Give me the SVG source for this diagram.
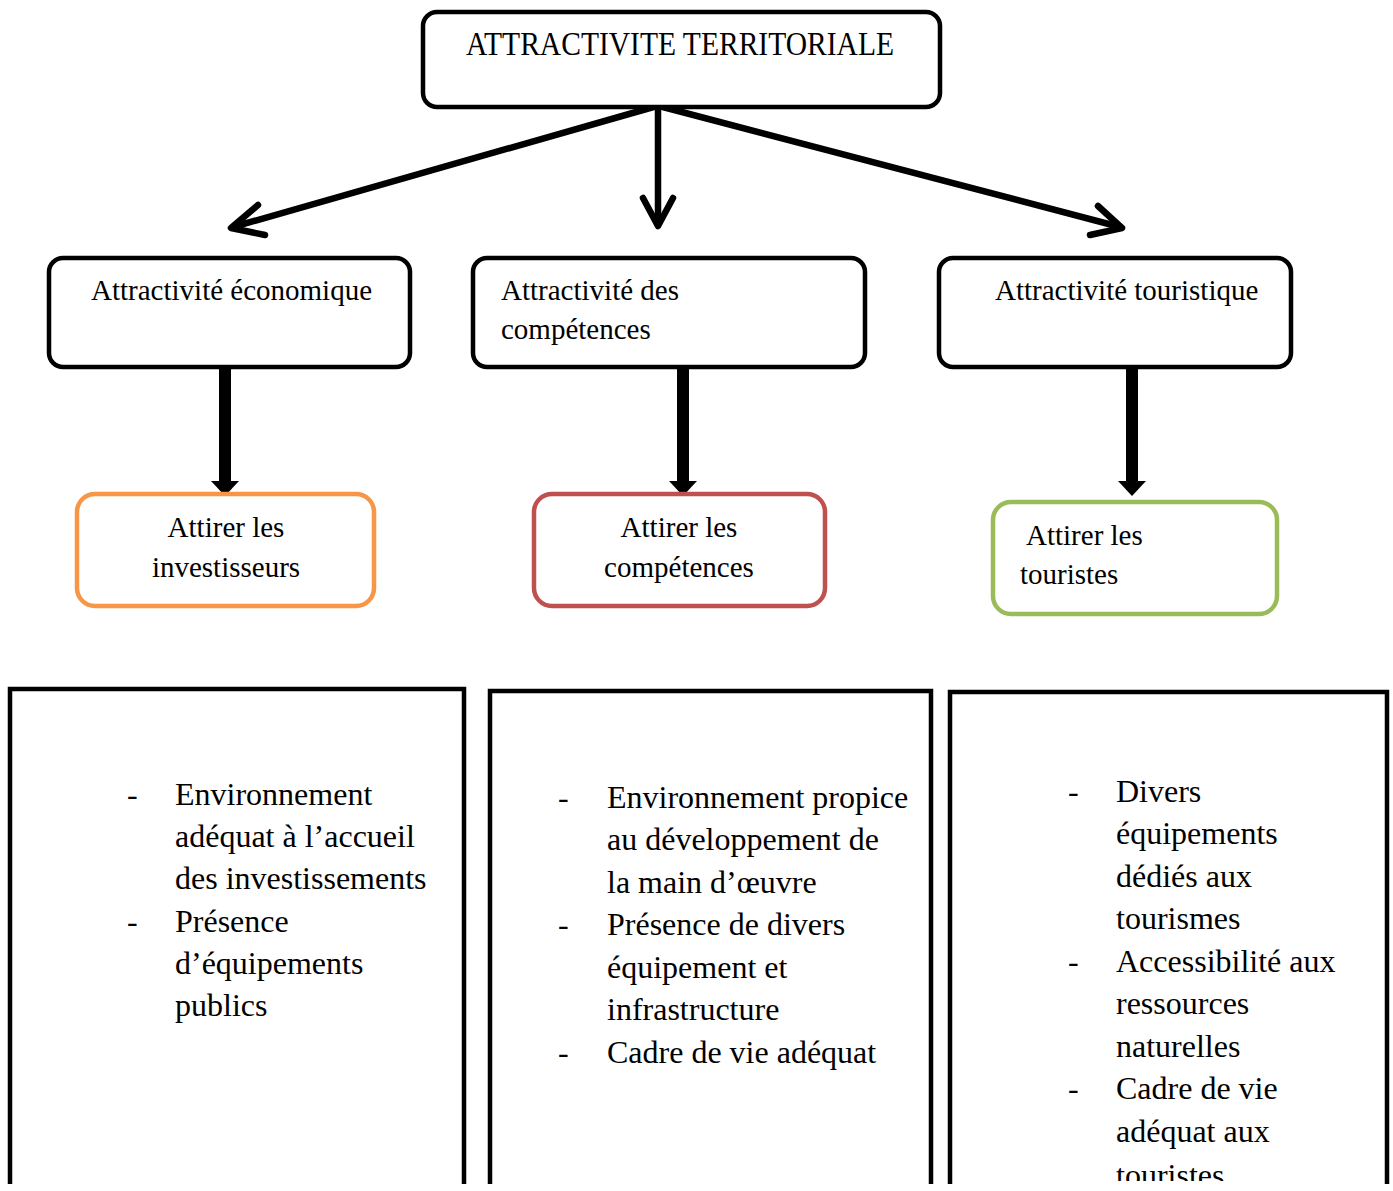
<svg xmlns="http://www.w3.org/2000/svg" width="1393" height="1191" viewBox="0 0 1393 1191">
<style>
.t{font-family:"Liberation Serif","Times New Roman",serif;fill:#000}
.s29{font-size:29px}
.s32{font-size:32px}
.box{fill:#fff;stroke:#000;stroke-width:4.5}
.col{fill:#fff;stroke-width:4.5}
.list{fill:none;stroke:#000;stroke-width:4.5}
.conn{fill:none;stroke:#000;stroke-width:6.5;stroke-linecap:round;stroke-linejoin:round}
.thick{fill:#000}
</style>
<defs>
<clipPath id="pageclip"><rect x="0" y="0" width="1393" height="1184"/></clipPath>
<clipPath id="textclip"><rect x="0" y="0" width="1393" height="1181"/></clipPath>
</defs>
<rect x="0" y="0" width="1393" height="1191" fill="#fff"/>

<g id="connectors">
<line class="conn" x1="657" y1="106" x2="233" y2="227"/>
<polyline class="conn" points="258,205 231,228 265,235"/>
<line class="conn" x1="658" y1="106" x2="658" y2="225"/>
<polyline class="conn" points="643,198 658,226 673,198"/>
<line class="conn" x1="659" y1="106" x2="1120" y2="227"/>
<polyline class="conn" points="1098,206 1122,228 1090,235"/>
<rect class="thick" x="219" y="363" width="12" height="119"/>
<polygon class="thick" points="211,481 239,481 225,496"/>
<rect class="thick" x="677" y="363" width="12" height="119"/>
<polygon class="thick" points="669,481 697,481 683,496"/>
<rect class="thick" x="1126" y="363" width="12" height="119"/>
<polygon class="thick" points="1118,481 1146,481 1132,496"/>
</g>

<g id="node-top">
<rect class="box" x="423" y="12" width="517" height="95" rx="14"/>
<text class="t" x="466" y="55" font-size="34" textLength="428" lengthAdjust="spacingAndGlyphs">ATTRACTIVITE TERRITORIALE</text>
</g>

<g id="node-eco">
<rect class="box" x="49" y="258" width="361" height="109" rx="14"/>
<text class="t s29" x="91" y="300">Attractivité économique</text>
</g>

<g id="node-comp">
<rect class="box" x="473" y="258" width="392" height="109" rx="14"/>
<text class="t s29" x="501" y="300">Attractivité des</text>
<text class="t s29" x="501" y="339">compétences</text>
</g>

<g id="node-tour">
<rect class="box" x="939" y="258" width="352" height="109" rx="14"/>
<text class="t s29" x="995" y="300">Attractivité touristique</text>
</g>

<g id="node-invest">
<rect class="col" x="77" y="494" width="297" height="112" rx="18" stroke="#F79646"/>
<text class="t s29" x="226" y="537" text-anchor="middle">Attirer les</text>
<text class="t s29" x="226" y="577" text-anchor="middle">investisseurs</text>
</g>

<g id="node-competences">
<rect class="col" x="534" y="494" width="291" height="112" rx="18" stroke="#C0504D"/>
<text class="t s29" x="679" y="537" text-anchor="middle">Attirer les</text>
<text class="t s29" x="679" y="577" text-anchor="middle">compétences</text>
</g>

<g id="node-touristes">
<rect class="col" x="993" y="502" width="284" height="112" rx="18" stroke="#9BBB59"/>
<text class="t s29" x="1026" y="545">Attirer les</text>
<text class="t s29" x="1020" y="584">touristes</text>
</g>

<g clip-path="url(#pageclip)">
<g id="list-eco">
<path class="list" d="M10,1186 V689 H464 V1186"/>
<text class="t s32" x="127" y="805">-</text>
<text class="t s32" x="175" y="805">Environnement</text>
<text class="t s32" x="175" y="847">adéquat à l’accueil</text>
<text class="t s32" x="175" y="889">des investissements</text>
<text class="t s32" x="127" y="932">-</text>
<text class="t s32" x="175" y="932">Présence</text>
<text class="t s32" x="175" y="974">d’équipements</text>
<text class="t s32" x="175" y="1016">publics</text>
</g>

<g id="list-comp">
<path class="list" d="M490,1186 V691 H931 V1186"/>
<text class="t s32" x="558" y="808">-</text>
<text class="t s32" x="607" y="808">Environnement propice</text>
<text class="t s32" x="607" y="850">au développement de</text>
<text class="t s32" x="607" y="893">la main d’œuvre</text>
<text class="t s32" x="558" y="935">-</text>
<text class="t s32" x="607" y="935">Présence de divers</text>
<text class="t s32" x="607" y="978">équipement et</text>
<text class="t s32" x="607" y="1020">infrastructure</text>
<text class="t s32" x="558" y="1063">-</text>
<text class="t s32" x="607" y="1063">Cadre de vie adéquat</text>
</g>

<g id="list-tour">
<path class="list" d="M950,1186 V692 H1387 V1186"/>
<text class="t s32" x="1068" y="802">-</text>
<text class="t s32" x="1116" y="802">Divers</text>
<text class="t s32" x="1116" y="844">équipements</text>
<text class="t s32" x="1116" y="887">dédiés aux</text>
<text class="t s32" x="1116" y="929">tourismes</text>
<text class="t s32" x="1068" y="972">-</text>
<text class="t s32" x="1116" y="972">Accessibilité aux</text>
<text class="t s32" x="1116" y="1014">ressources</text>
<text class="t s32" x="1116" y="1057">naturelles</text>
<text class="t s32" x="1068" y="1099">-</text>
<text class="t s32" x="1116" y="1099">Cadre de vie</text>
<text class="t s32" x="1116" y="1142">adéquat aux</text>
<text class="t s32" x="1116" y="1186" clip-path="url(#textclip)">touristes</text>
</g>
</g>
</svg>
